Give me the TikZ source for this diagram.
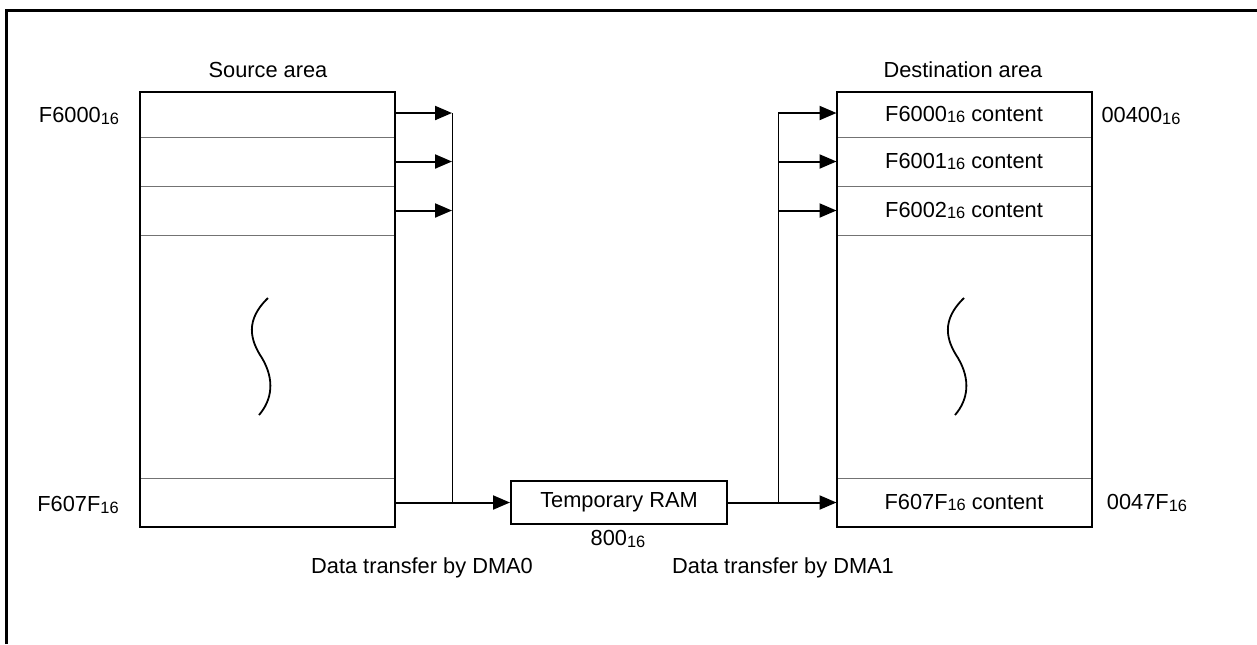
\documentclass[tikz,border=0pt]{standalone}
\usepackage{fontspec}
\setmainfont{Liberation Sans}
\usetikzlibrary{arrows.meta}
\newcommand{\hx}[1]{{\fontsize{8.2}{9}\selectfont\raisebox{-0.6pt}{#1}}}
\begin{document}
\begin{tikzpicture}[x=0.5pt,y=-0.5pt,
  lbl/.style={font=\fontsize{10.9}{13}\selectfont, inner sep=0pt},
  rowcell/.style={draw=black!55, line width=0.5pt, inner sep=0pt, outer sep=0pt,
    minimum width=127.5pt, font=\fontsize{10.9}{13}\selectfont},
  membox/.style={draw, line width=1pt, inner sep=0pt, outer sep=0pt, minimum width=127.5pt, minimum height=217.5pt},
  arr/.style={-{Triangle[length=8.5pt,width=7pt]}, line width=1pt},
  bus/.style={line width=0.5pt},
  wave/.style={line width=0.9pt}]
\useasboundingbox (0,0) rectangle (1257,644);
\draw[line width=1.5pt] (6,644) -- (6,10) -- (1257,10);

% source area
\node[rowcell, minimum height=22.5pt] (s1) at (267.5,114.5) {};
\node[rowcell, minimum height=24.5pt] (s2) at (267.5,161.5) {};
\node[rowcell, minimum height=24.5pt] (s3) at (267.5,210.5) {};
\node[rowcell, minimum height=121.5pt] (s4) at (267.5,356.5) {};
\node[rowcell, minimum height=24.5pt] (s5) at (267.5,502.5) {};
\node[membox] (src) at (267.5,309.5) {};
\draw[wave] (268,298) .. controls (245,320) and (250,340) .. (262,358) .. controls (275,380) and (272,400) .. (259,415);

% destination area
\node[rowcell, minimum height=22.5pt] (d1) at (964,114.5) {F6000\hx{16} content};
\node[rowcell, minimum height=24.5pt] (d2) at (964,161.5) {F6001\hx{16} content};
\node[rowcell, minimum height=24.5pt] (d3) at (964,210.5) {F6002\hx{16} content};
\node[rowcell, minimum height=121.5pt] (d4) at (964,356.5) {};
\node[rowcell, minimum height=24.5pt] (d5) at (964,502.5) {F607F\hx{16} content};
\node[membox] (dst) at (964,309.5) {};
\draw[wave] (964,298) .. controls (941,320) and (946,340) .. (958,358) .. controls (971,380) and (968,400) .. (955,415);

% temporary RAM
\node[draw, line width=1pt, inner sep=0pt, minimum width=108pt, minimum height=21.5pt,
  font=\fontsize{10.9}{13}\selectfont] (ram) at (619,502) {Temporary RAM};

% buses
\coordinate (bl) at (452,113);
\coordinate (br) at (778,113);
\draw[bus] (bl) -- (bl |- s5.east);
\draw[bus] (br) -- (br |- s5.east);
\draw[arr] (s1.east |- bl) -- (bl);
\draw[arr] (s2.east) -- (s2.east -| bl);
\draw[arr] (s3.east) -- (s3.east -| bl);
\draw[arr] (s5.east) -- (s5.east -| ram.west);
\draw[arr] (ram.east |- s5.east) -- (s5.east -| dst.west);
\draw[arr] (br) -- (br -| dst.west);
\draw[arr] (br |- d2.west) -- (d2.west);
\draw[arr] (br |- d3.west) -- (d3.west);

% labels
\node[lbl] (ls) at (268,70) {Source area};
\node[lbl] (ld) at (963,70) {Destination area};
\node[lbl] (a1) at (79,116) {F6000\hx{16}};
\node[lbl] (a2) at (78,505) {F607F\hx{16}};
\node[lbl] (a3) at (1141,116) {00400\hx{16}};
\node[lbl] (a4) at (1147,503) {0047F\hx{16}};
\node[lbl] (a5) at (618,539) {800\hx{16}};
\node[lbl] (t0) at (422,568) {Data transfer by DMA0};
\node[lbl] (t1) at (783,568) {Data transfer by DMA1};
\end{tikzpicture}
\end{document}
